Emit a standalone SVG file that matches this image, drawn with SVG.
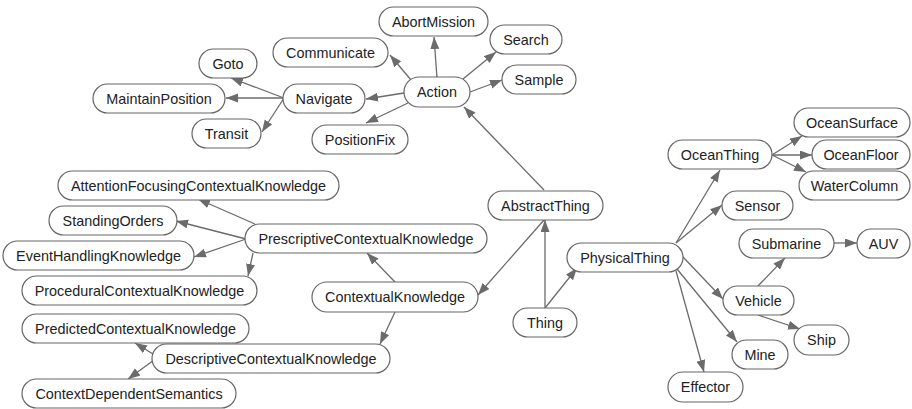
<svg xmlns="http://www.w3.org/2000/svg" width="912" height="409" viewBox="0 0 912 409">
<style>
.n rect{fill:#fff;stroke:#666;stroke-width:1.2}
.n text{font-family:"Liberation Sans",Arial,Helvetica,sans-serif;font-size:14.4px;fill:#222;text-anchor:middle}
.e line{stroke:#6b6b6b;stroke-width:1.3;marker-end:url(#ah)}
</style>
<defs>
<marker id="ah" markerUnits="userSpaceOnUse" markerWidth="13" markerHeight="10" refX="12" refY="4.5" orient="auto">
<path d="M0,0 L12,4.5 L0,9 z" fill="#6b6b6b"/>
</marker>
</defs>
<rect width="912" height="409" fill="#fff"/>
<g id="edges" class="e">
<line x1="437" y1="78" x2="434" y2="37"/>
<line x1="411" y1="80" x2="390" y2="55"/>
<line x1="463" y1="79" x2="496" y2="52"/>
<line x1="470" y1="92" x2="502" y2="80"/>
<line x1="404" y1="93" x2="366" y2="99"/>
<line x1="408" y1="103" x2="366" y2="123"/>
<line x1="544" y1="190" x2="464" y2="107"/>
<line x1="284" y1="98" x2="231" y2="78"/>
<line x1="284" y1="98" x2="226" y2="98"/>
<line x1="284" y1="98" x2="262" y2="132"/>
<line x1="772" y1="155" x2="802" y2="136"/>
<line x1="772" y1="155" x2="812" y2="155"/>
<line x1="772" y1="155" x2="806" y2="172"/>
<line x1="676" y1="243" x2="720" y2="170"/>
<line x1="676" y1="243" x2="722" y2="205"/>
<line x1="683" y1="257" x2="723" y2="299"/>
<line x1="677" y1="269" x2="737" y2="342"/>
<line x1="676" y1="271" x2="704" y2="372"/>
<line x1="758" y1="286" x2="785" y2="258"/>
<line x1="758" y1="315" x2="800" y2="329"/>
<line x1="834" y1="243" x2="857" y2="243"/>
<line x1="545" y1="308" x2="545" y2="220"/>
<line x1="545" y1="308" x2="577" y2="268"/>
<line x1="544" y1="220" x2="478" y2="295"/>
<line x1="395" y1="282" x2="367" y2="253"/>
<line x1="395" y1="312" x2="380" y2="344"/>
<line x1="255" y1="224" x2="198" y2="199"/>
<line x1="246" y1="239" x2="176" y2="221"/>
<line x1="246" y1="239" x2="194" y2="257"/>
<line x1="253" y1="253" x2="248" y2="276"/>
<line x1="153" y1="354" x2="135" y2="343"/>
<line x1="154" y1="360" x2="128" y2="379"/>
</g>
<g id="AbortMission" class="n"><rect x="379" y="7" width="109" height="29" rx="14.5"/><text x="433.5" y="26.5">AbortMission</text></g>
<g id="Search" class="n"><rect x="490" y="25" width="72" height="29" rx="14.5"/><text x="526" y="44.5">Search</text></g>
<g id="Communicate" class="n"><rect x="273" y="38" width="115" height="29" rx="14.5"/><text x="330.5" y="57.5">Communicate</text></g>
<g id="Sample" class="n"><rect x="502" y="65" width="74" height="29" rx="14.5"/><text x="539" y="84.5">Sample</text></g>
<g id="Action" class="n"><rect x="404" y="77" width="66" height="30" rx="15"/><text x="437" y="97">Action</text></g>
<g id="Navigate" class="n"><rect x="283" y="84" width="82" height="29" rx="14.5"/><text x="324" y="103.5">Navigate</text></g>
<g id="PositionFix" class="n"><rect x="312" y="125" width="96" height="29" rx="14.5"/><text x="360" y="144.5">PositionFix</text></g>
<g id="Goto" class="n"><rect x="199" y="49" width="58" height="29" rx="14.5"/><text x="228" y="68.5">Goto</text></g>
<g id="MaintainPosition" class="n"><rect x="93" y="84" width="132" height="29" rx="14.5"/><text x="159" y="103.5">MaintainPosition</text></g>
<g id="Transit" class="n"><rect x="192" y="119" width="69" height="29" rx="14.5"/><text x="226.5" y="138.5">Transit</text></g>
<g id="OceanSurface" class="n"><rect x="794" y="108" width="116" height="29" rx="14.5"/><text x="852" y="127.5">OceanSurface</text></g>
<g id="OceanFloor" class="n"><rect x="812" y="140" width="98" height="29" rx="14.5"/><text x="861" y="159.5">OceanFloor</text></g>
<g id="WaterColumn" class="n"><rect x="799" y="171" width="111" height="29" rx="14.5"/><text x="854.5" y="190.5">WaterColumn</text></g>
<g id="OceanThing" class="n"><rect x="668" y="140" width="104" height="29" rx="14.5"/><text x="720" y="159.5">OceanThing</text></g>
<g id="Sensor" class="n"><rect x="722" y="191" width="71" height="29" rx="14.5"/><text x="757.5" y="210.5">Sensor</text></g>
<g id="Submarine" class="n"><rect x="739" y="229" width="95" height="29" rx="14.5"/><text x="786.5" y="248.5">Submarine</text></g>
<g id="AUV" class="n"><rect x="857" y="229" width="53" height="29" rx="14.5"/><text x="883.5" y="248.5">AUV</text></g>
<g id="PhysicalThing" class="n"><rect x="567" y="243" width="116" height="29" rx="14.5"/><text x="625" y="262.5">PhysicalThing</text></g>
<g id="Vehicle" class="n"><rect x="723" y="286" width="71" height="29" rx="14.5"/><text x="758.5" y="305.5">Vehicle</text></g>
<g id="Ship" class="n"><rect x="794" y="325" width="55" height="30" rx="15"/><text x="821.5" y="345">Ship</text></g>
<g id="Mine" class="n"><rect x="732" y="340" width="56" height="29" rx="14.5"/><text x="760" y="359.5">Mine</text></g>
<g id="Effector" class="n"><rect x="668" y="372" width="75" height="30" rx="15"/><text x="705.5" y="392">Effector</text></g>
<g id="AbstractThing" class="n"><rect x="488" y="191" width="115" height="29" rx="14.5"/><text x="545.5" y="210.5">AbstractThing</text></g>
<g id="Thing" class="n"><rect x="513" y="308" width="64" height="29" rx="14.5"/><text x="545" y="327.5">Thing</text></g>
<g id="ContextualKnowledge" class="n"><rect x="312" y="282" width="166" height="30" rx="15"/><text x="395" y="302">ContextualKnowledge</text></g>
<g id="PrescriptiveContextualKnowledge" class="n"><rect x="245" y="224" width="242" height="29" rx="14.5"/><text x="366" y="243.5">PrescriptiveContextualKnowledge</text></g>
<g id="AttentionFocusingContextualKnowledge" class="n"><rect x="58" y="171" width="281" height="29" rx="14.5"/><text x="198.5" y="190.5">AttentionFocusingContextualKnowledge</text></g>
<g id="StandingOrders" class="n"><rect x="49" y="206" width="128" height="29" rx="14.5"/><text x="113" y="225.5">StandingOrders</text></g>
<g id="EventHandlingKnowledge" class="n"><rect x="3" y="241" width="191" height="29" rx="14.5"/><text x="98.5" y="260.5">EventHandlingKnowledge</text></g>
<g id="ProceduralContextualKnowledge" class="n"><rect x="22" y="276" width="235" height="29" rx="14.5"/><text x="139.5" y="295.5">ProceduralContextualKnowledge</text></g>
<g id="PredictedContextualKnowledge" class="n"><rect x="22" y="314" width="227" height="29" rx="14.5"/><text x="135.5" y="333.5">PredictedContextualKnowledge</text></g>
<g id="DescriptiveContextualKnowledge" class="n"><rect x="152" y="344" width="238" height="29" rx="14.5"/><text x="271" y="363.5">DescriptiveContextualKnowledge</text></g>
<g id="ContextDependentSemantics" class="n"><rect x="22" y="379" width="214" height="29" rx="14.5"/><text x="129" y="398.5">ContextDependentSemantics</text></g>
</svg>
